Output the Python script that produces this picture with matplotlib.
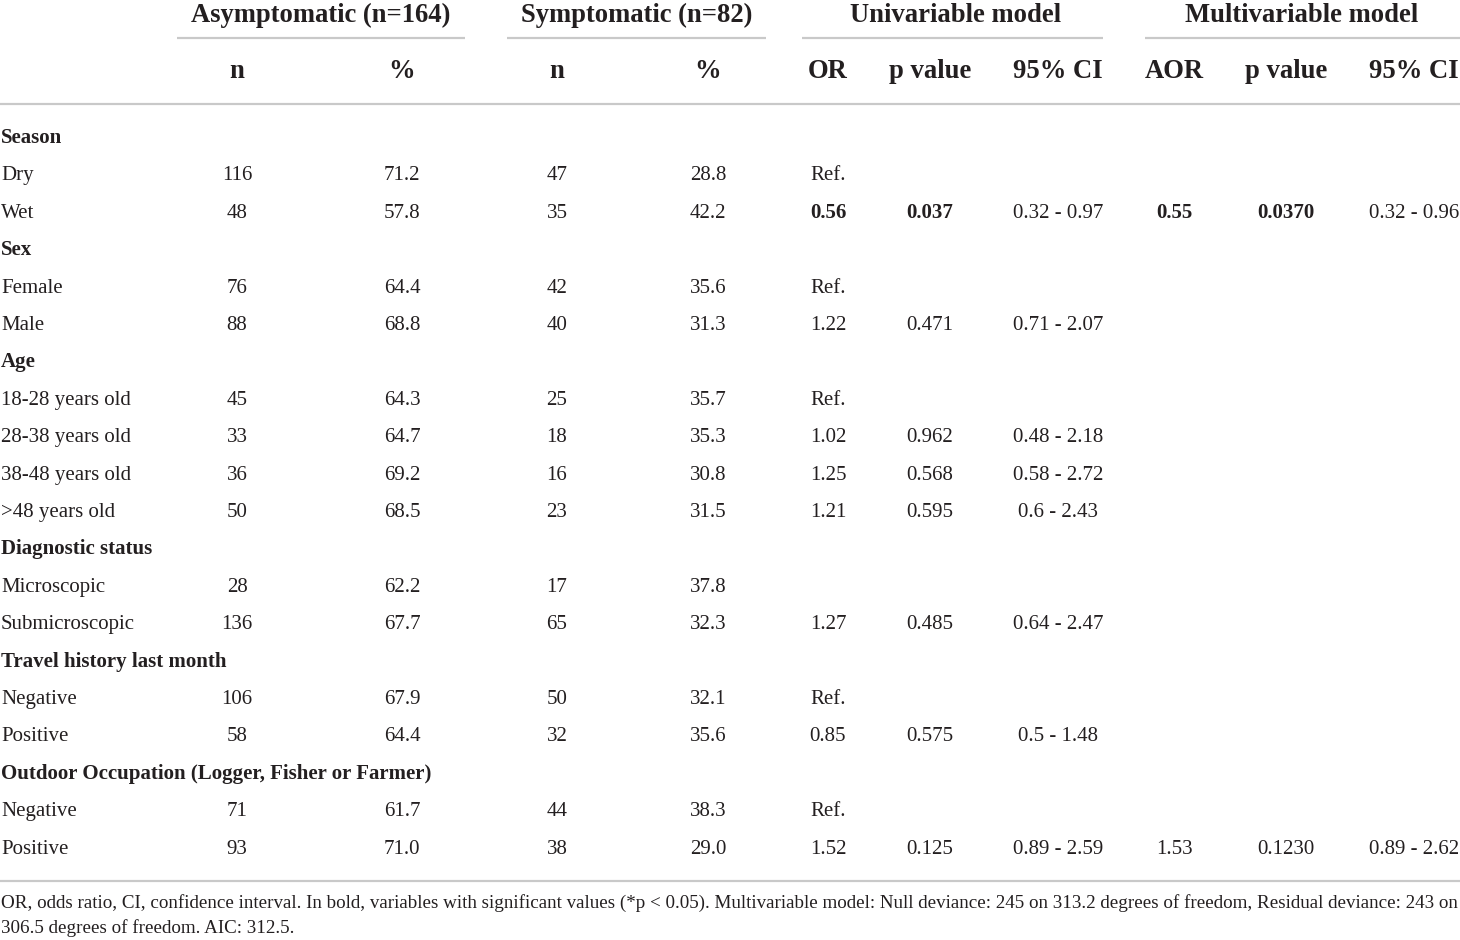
import matplotlib
matplotlib.use("Agg")
import matplotlib.pyplot as plt

plt.rcParams['font.family'] = ['Liberation Serif', 'DejaVu Serif']

# table content, row by row ('' = empty cell)
row_labels = ["Season", "Dry", "Wet", "Sex", "Female", "Male", "Age",
              "18-28 years old", "28-38 years old", "38-48 years old", ">48 years old",
              "Diagnostic status", "Microscopic", "Submicroscopic",
              "Travel history last month", "Negative", "Positive",
              "Outdoor Occupation (Logger, Fisher or Farmer)", "Negative", "Positive"]
is_section = [True, False, False, True, False, False, True, False, False, False, False,
              True, False, False, True, False, False, True, False, False]
asym_n = ["", "116", "48", "", "76", "88", "", "45", "33", "36", "50",
          "", "28", "136", "", "106", "58", "", "71", "93"]
asym_pct = ["", "71.2", "57.8", "", "64.4", "68.8", "", "64.3", "64.7", "69.2", "68.5",
            "", "62.2", "67.7", "", "67.9", "64.4", "", "61.7", "71.0"]
sym_n = ["", "47", "35", "", "42", "40", "", "25", "18", "16", "23",
         "", "17", "65", "", "50", "32", "", "44", "38"]
sym_pct = ["", "28.8", "42.2", "", "35.6", "31.3", "", "35.7", "35.3", "30.8", "31.5",
           "", "37.8", "32.3", "", "32.1", "35.6", "", "38.3", "29.0"]
uni_or = ["", "Ref.", "0.56", "", "Ref.", "1.22", "", "Ref.", "1.02", "1.25", "1.21",
          "", "", "1.27", "", "Ref.", "0.85", "", "Ref.", "1.52"]
uni_p = ["", "", "0.037", "", "", "0.471", "", "", "0.962", "0.568", "0.595",
         "", "", "0.485", "", "", "0.575", "", "", "0.125"]
uni_ci = ["", "", "0.32 - 0.97", "", "", "0.71 - 2.07", "", "", "0.48 - 2.18", "0.58 - 2.72",
          "0.6 - 2.43", "", "", "0.64 - 2.47", "", "", "0.5 - 1.48", "", "", "0.89 - 2.59"]
multi_aor = ["", "", "0.55", "", "", "", "", "", "", "", "",
             "", "", "", "", "", "", "", "", "1.53"]
multi_p = ["", "", "0.0370", "", "", "", "", "", "", "", "",
           "", "", "", "", "", "", "", "", "0.1230"]
multi_ci = ["", "", "0.32 - 0.96", "", "", "", "", "", "", "", "",
            "", "", "", "", "", "", "", "", "0.89 - 2.62"]
bold_cells = {(2, "uni_or"), (2, "uni_p"), (2, "multi_aor"), (2, "multi_p")}

groups = ["Asymptomatic (n=164)", "Symptomatic (n=82)", "Univariable model", "Multivariable model"]
subheads = ["n", "%", "n", "%", "OR", "p value", "95% CI", "AOR", "p value", "95% CI"]
footnote = ["OR, odds ratio, CI, confidence interval. In bold, variables with significant values (*p < 0.05). "
            "Multivariable model: Null deviance: 245 on 313.2 degrees of freedom, Residual deviance: 243 on",
            "306.5 degrees of freedom. AIC: 312.5."]

# layout (pixels)
W, H = 1460, 940
col_x = [237, 402, 557, 708, 828, 930, 1058, 1174, 1286, 1414]
col_keys = ["asym_n", "asym_pct", "sym_n", "sym_pct", "uni_or", "uni_p", "uni_ci",
            "multi_aor", "multi_p", "multi_ci"]
columns = [asym_n, asym_pct, sym_n, sym_pct, uni_or, uni_p, uni_ci, multi_aor, multi_p, multi_ci]
group_x = [321, 637, 956, 1302]
group_span = [(177, 465), (507, 766), (802, 1103), (1145, 1460)]
row_y0, row_step = 136, 37.4
line_col = "#c9c9c9"
txt_col = "#231f20"
fs_body, fs_head, fs_note = 15.0, 19.2, 13.7

fig = plt.figure(figsize=(W / 100, H / 100), dpi=100)
ax = fig.add_axes([0, 0, 1, 1])
ax.set_xlim(0, W)
ax.set_ylim(H, 0)
ax.axis("off")

for gx, g in zip(group_x, groups):
    ax.text(gx, 22, g, ha="center", va="baseline", fontsize=fs_head, fontweight="bold", color=txt_col)
for (x0, x1) in group_span:
    ax.plot([x0, x1], [38, 38], color=line_col, lw=1.6, solid_capstyle="butt")
for cx, s in zip(col_x, subheads):
    ax.text(cx, 78, s, ha="center", va="baseline", fontsize=fs_head, fontweight="bold", color=txt_col)
ax.plot([0, W], [104, 104], color=line_col, lw=1.6)
ax.plot([0, W], [881, 881], color=line_col, lw=1.6)

for i, lab in enumerate(row_labels):
    y = row_y0 + i * row_step + 7
    ax.text(1, y, lab, ha="left", va="baseline", fontsize=fs_body, color=txt_col,
            fontweight="bold" if is_section[i] else "normal")
    for cx, key, col in zip(col_x, col_keys, columns):
        if col[i]:
            ax.text(cx, y, col[i], ha="center", va="baseline", fontsize=fs_body, color=txt_col,
                    fontweight="bold" if (i, key) in bold_cells else "normal")

ax.text(1, 908, footnote[0], ha="left", va="baseline", fontsize=fs_note, color=txt_col)
ax.text(1, 933, footnote[1], ha="left", va="baseline", fontsize=fs_note, color=txt_col)

fig.savefig("out.png", dpi=100, facecolor="white")
